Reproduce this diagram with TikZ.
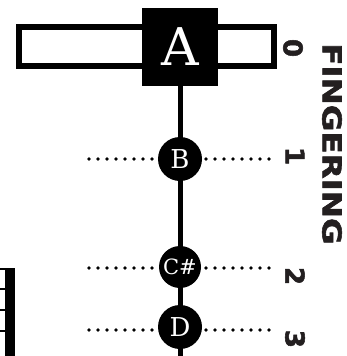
\documentclass[tikz,border=0pt]{standalone}
\usepackage{fontspec}
\newfontfamily\labelfont[FakeBold=2]{DejaVu Sans Bold}
\newfontfamily\notefont{DejaVu Serif}
\definecolor{inkdark}{RGB}{35,31,32}
\tikzset{
  px/.style={x=1pt,y=-1pt},
  notebox/.style={fill=black,text=white,inner sep=0pt,minimum width=76pt,minimum height=78pt,
    font=\notefont\fontsize{52}{52}\selectfont},
  notedot/.style={circle,fill=black,text=white,inner sep=0pt,minimum size=44pt,
    font=\notefont\fontsize{26}{26}\selectfont},
  fingerdots/.style={line width=3.6pt,line cap=round,dash pattern=on 0pt off 9pt},
  numlabel/.style={text=inkdark,rotate=-90,inner sep=0pt,
    font=\labelfont\fontsize{26}{26}\selectfont},
  stem/.style={line width=5pt},
  fret/.style={line width=2pt}
}
\begin{document}
\begin{tikzpicture}[px]
\useasboundingbox (0,0) rectangle (346,356);
% open-string bar
\draw[line width=6pt] (19,27) rectangle (274,66);
% string stem
\coordinate (stemend) at (180,360);
\draw[stem] (180,80) -- (stemend);
% notes
\node[notebox] (A) at (180,47) {A};
\node[notedot] (B) at (180,159) {B};
\node[notedot,minimum size=42pt,font=\notefont\fontsize{21}{21}\selectfont] (Cs) at (180,267) {C\#};
\node[notedot] (D) at (180,327) {D};
% dotted finger rows
\foreach \n/\y in {B/159,Cs/268,D/330}{
  \coordinate (l\n) at (89,\y);
  \coordinate (r\n) at (206,\y);
  \draw[fingerdots] (l\n) -- ++(64,0);
  \draw[fingerdots] (r\n) -- ++(64,0);
}
% finger numbers
\node[numlabel] (n0) at (293,48) {0};
\node[numlabel] (n1) at (295,156) {1};
\node[numlabel] (n2) at (295,276) {2};
\node[numlabel] (n3) at (295,339) {3};
\node[numlabel] (title) at (332,144) {\scalebox{1.25}[1]{FINGERING}};
% edge of neighbouring fret grid
\draw[line width=10pt] (10,268) -- (10,356);
\foreach \y in {269,289,310,331}{
  \draw[fret] (0,\y) -- (12,\y);
}
\end{tikzpicture}
\end{document}
